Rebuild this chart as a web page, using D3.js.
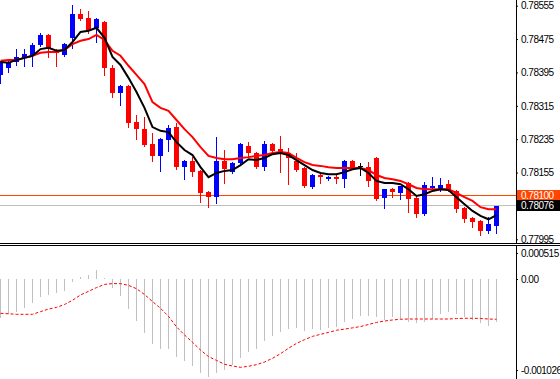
<!DOCTYPE html>
<html><head><meta charset="utf-8">
<script src="https://cdn.jsdelivr.net/npm/d3@7"></script>
<style>
body{margin:0;background:#fff;overflow:hidden}
svg{display:block}
text{font-family:"Liberation Sans",Arial,sans-serif;font-size:10px;letter-spacing:-0.5px}
</style>
</head><body>
<svg id="c" width="560" height="379"></svg>
<script>
// ---- data ----
const opens  = [0.78389,0.78406,0.78420,0.78430,0.78435,0.78461,0.78485,0.78449,0.78437,0.78478,
                0.78535,0.78526,0.78502,0.78516,0.78406,0.78346,0.78363,0.78276,0.78259,0.78223,
                0.78195,0.78233,0.78264,0.78168,0.78183,0.78159,0.78108,0.78096,0.78183,0.78156,
                0.78178,0.78219,0.78202,0.78168,0.78223,0.78211,0.78202,0.78183,0.78166,0.78120,
                0.78149,0.78139,0.78144,0.78139,0.78183,0.78171,0.78168,0.78190,0.78094,0.78115,
                0.78106,0.78130,0.78094,0.78055,0.78118,0.78113,0.78127,0.78111,0.78070,0.78046,
                0.78039,0.78015,0.78029];
const highs  = [0.78423,0.78425,0.78451,0.78451,0.78466,0.78490,0.78487,0.78451,0.78466,0.78557,
                0.78547,0.78543,0.78525,0.78519,0.78413,0.78365,0.78365,0.78293,0.78288,0.78250,
                0.78237,0.78269,0.78274,0.78185,0.78192,0.78161,0.78110,0.78240,0.78209,0.78180,
                0.78226,0.78228,0.78204,0.78231,0.78226,0.78243,0.78214,0.78202,0.78168,0.78151,
                0.78151,0.78147,0.78149,0.78185,0.78185,0.78178,0.78180,0.78192,0.78115,0.78117,
                0.78123,0.78132,0.78096,0.78132,0.78144,0.78142,0.78137,0.78113,0.78072,0.78048,
                0.78041,0.78048,0.78076];
const lows   = [0.78370,0.78396,0.78413,0.78411,0.78411,0.78459,0.78432,0.78411,0.78435,0.78454,
                0.78521,0.78490,0.78468,0.78389,0.78336,0.78317,0.78264,0.78235,0.78219,0.78183,
                0.78159,0.78207,0.78163,0.78139,0.78147,0.78084,0.78072,0.78082,0.78130,0.78154,
                0.78173,0.78192,0.78166,0.78161,0.78204,0.78156,0.78127,0.78159,0.78120,0.78118,
                0.78130,0.78137,0.78130,0.78120,0.78166,0.78149,0.78123,0.78089,0.78070,0.78096,
                0.78091,0.78060,0.78048,0.78053,0.78115,0.78111,0.78111,0.78060,0.78036,0.78024,
                0.78005,0.78010,0.78010];
const closes = [0.78420,0.78420,0.78432,0.78439,0.78461,0.78485,0.78454,0.78442,0.78463,0.78535,
                0.78523,0.78497,0.78523,0.78406,0.78346,0.78363,0.78274,0.78259,0.78221,0.78195,
                0.78235,0.78262,0.78168,0.78183,0.78156,0.78106,0.78096,0.78183,0.78163,0.78178,
                0.78223,0.78202,0.78168,0.78223,0.78207,0.78202,0.78190,0.78161,0.78123,0.78149,
                0.78144,0.78144,0.78139,0.78183,0.78168,0.78171,0.78135,0.78091,0.78115,0.78108,
                0.78123,0.78091,0.78055,0.78125,0.78123,0.78125,0.78111,0.78067,0.78043,0.78036,
                0.78015,0.78031,0.78076];
const maFast = [0.78420,0.78418,0.78425,0.78430,0.78435,0.78451,0.78454,0.78447,0.78449,0.78468,
                0.78492,0.78495,0.78502,0.78478,0.78432,0.78413,0.78382,0.78348,0.78310,0.78264,
                0.78255,0.78252,0.78228,0.78209,0.78197,0.78168,0.78144,0.78154,0.78159,0.78161,
                0.78173,0.78187,0.78185,0.78190,0.78199,0.78202,0.78197,0.78185,0.78173,0.78161,
                0.78154,0.78151,0.78151,0.78156,0.78163,0.78166,0.78154,0.78135,0.78130,0.78130,
                0.78127,0.78115,0.78099,0.78103,0.78111,0.78115,0.78113,0.78096,0.78079,0.78063,
                0.78051,0.78043,0.78053];
const maSlow = [0.78423,0.78425,0.78425,0.78430,0.78435,0.78442,0.78444,0.78444,0.78449,0.78463,
                0.78471,0.78475,0.78485,0.78473,0.78447,0.78435,0.78411,0.78389,0.78367,0.78324,
                0.78310,0.78303,0.78281,0.78259,0.78240,0.78216,0.78195,0.78190,0.78187,0.78187,
                0.78190,0.78192,0.78195,0.78197,0.78202,0.78204,0.78202,0.78190,0.78180,0.78173,
                0.78171,0.78168,0.78166,0.78166,0.78166,0.78166,0.78161,0.78149,0.78142,0.78139,
                0.78135,0.78127,0.78118,0.78115,0.78115,0.78115,0.78115,0.78106,0.78096,0.78087,
                0.78072,0.78067,0.78067];
const macdMain = [-0.000436,-0.000395,-0.000369,-0.000324,-0.000267,-0.000200,-0.000180,-0.000161,-0.000132,-0.000030,
                   0.000046, 0.000085, 0.000178, 0.000026,-0.000105,-0.000188,-0.000338,-0.000474,-0.000605,-0.000733,
                  -0.000789,-0.000789,-0.000876,-0.000921,-0.000978,-0.001056,-0.001108,-0.001063,-0.001026,-0.000970,
                  -0.000887,-0.000820,-0.000789,-0.000696,-0.000639,-0.000594,-0.000564,-0.000549,-0.000583,-0.000567,
                  -0.000575,-0.000556,-0.000538,-0.000481,-0.000451,-0.000414,-0.000414,-0.000432,-0.000462,-0.000432,
                  -0.000454,-0.000488,-0.000499,-0.000481,-0.000454,-0.000395,-0.000369,-0.000395,-0.000432,-0.000462,
                  -0.000499,-0.000530,-0.000481];
const macdSignal = [-0.000387,-0.000392,-0.000398,-0.000398,-0.000398,-0.000368,-0.000339,-0.000320,-0.000288,-0.000240,
                    -0.000180,-0.000139,-0.000097,-0.000061,-0.000052,-0.000052,-0.000072,-0.000109,-0.000175,-0.000254,
                    -0.000330,-0.000421,-0.000539,-0.000631,-0.000714,-0.000801,-0.000875,-0.000918,-0.000961,-0.000981,
                    -0.000996,-0.000984,-0.000966,-0.000936,-0.000894,-0.000842,-0.000781,-0.000726,-0.000684,-0.000647,
                    -0.000624,-0.000602,-0.000578,-0.000565,-0.000551,-0.000536,-0.000513,-0.000490,-0.000474,-0.000462,
                    -0.000454,-0.000451,-0.000451,-0.000451,-0.000451,-0.000451,-0.000451,-0.000446,-0.000443,-0.000443,
                    -0.000445,-0.000451,-0.000454];
const priceTicks = [0.78555,0.78475,0.78395,0.78315,0.78235,0.78155,0.77995];
const macdTicks  = [0.000515,0,-0.001026];
const macdTickLabels = ["0.000515","0.00","-0.001026"];
const levelLine = 0.78100;
const bidPrice  = 0.78076;

// ---- drawing ----
const svg = d3.select("#c");
const W = 560, axisX = 516;
const n = opens.length;
const x = d3.scaleLinear().domain([0, n - 1]).range([0.5, 8 * (n - 1) + 0.5]);
const y = d3.scaleLinear().domain([0.77995, 0.78555]).range([239.3, 5.7]);
const ym = d3.scaleLinear().domain([-0.001026, 0, 0.000515]).range([370, 279, 253]);

const idx = d3.range(n);

// horizontal level lines
const lg = svg.append("g").attr("shape-rendering","crispEdges");
lg.append("line").attr("x1",0).attr("x2",axisX).attr("y1",Math.floor(y(levelLine))+0.5).attr("y2",Math.floor(y(levelLine))+0.5)
   .attr("stroke","#ff4500").attr("stroke-width",1);
lg.append("line").attr("x1",0).attr("x2",axisX).attr("y1",Math.floor(y(bidPrice))+0.5).attr("y2",Math.floor(y(bidPrice))+0.5)
   .attr("stroke","#c0c0c0").attr("stroke-width",1);

// candles
const colorOf = i => closes[i] > opens[i] ? "#0000ff" : (closes[i] < opens[i] ? "#ff0000" : "#000000");
const cg = svg.append("g").attr("shape-rendering","crispEdges");
cg.selectAll("line.w").data(idx).join("line").attr("class","w")
  .attr("x1", i => x(i)).attr("x2", i => x(i))
  .attr("y1", i => Math.round(y(highs[i]))).attr("y2", i => Math.round(y(lows[i])) + 1)
  .attr("stroke", colorOf).attr("stroke-width",1);
cg.selectAll("rect.b").data(idx).join("rect").attr("class","b")
  .attr("x", i => x(i) - 2.5).attr("width", 5)
  .attr("y", i => Math.round(Math.min(y(opens[i]), y(closes[i]))))
  .attr("height", i => Math.max(1, Math.round(Math.abs(y(opens[i]) - y(closes[i])))))
  .attr("fill", colorOf);

// moving averages
const lineP = arr => d3.line().x((d,i) => x(i)).y(d => y(d))(arr);
svg.append("path").attr("d", lineP(maSlow)).attr("fill","none").attr("stroke","#ff0000").attr("stroke-width",2);
svg.append("path").attr("d", lineP(maFast)).attr("fill","none").attr("stroke","#000000").attr("stroke-width",2);

// separator between panels
svg.append("rect").attr("x",0).attr("y",242).attr("width",W).attr("height",137).attr("fill","#fff");
const sg = svg.append("g").attr("shape-rendering","crispEdges");
sg.append("line").attr("x1",0).attr("x2",W).attr("y1",243.5).attr("y2",243.5).attr("stroke","#000");
sg.append("line").attr("x1",0).attr("x2",W).attr("y1",245.5).attr("y2",245.5).attr("stroke","#000");

// MACD histogram
const hg = svg.append("g").attr("shape-rendering","crispEdges");
hg.selectAll("line").data(idx).join("line")
  .attr("x1", i => x(i)).attr("x2", i => x(i))
  .attr("y1", ym(0)).attr("y2", i => Math.round(ym(macdMain[i])))
  .attr("stroke","#c0c0c0").attr("stroke-width",1);
// signal line
svg.append("path").attr("d", d3.line().x((d,i)=>x(i)).y(d=>ym(d))(macdSignal))
  .attr("fill","none").attr("stroke","#ff0000").attr("stroke-width",1).attr("stroke-dasharray","3,2");

// right axes area
sg.append("line").attr("x1",axisX+0.5).attr("x2",axisX+0.5).attr("y1",0).attr("y2",243).attr("stroke","#000");
sg.append("line").attr("x1",axisX+0.5).attr("x2",axisX+0.5).attr("y1",246).attr("y2",379).attr("stroke","#000");

const pa = svg.append("g").attr("transform",`translate(${axisX},0)`)
  .call(d3.axisRight(y).tickValues(priceTicks).tickSize(2).tickPadding(3).tickFormat(d3.format(".5f")));
pa.select(".domain").remove();
pa.selectAll("text").attr("fill","#000").style("font-size","10px");
pa.selectAll("line").attr("stroke","#000");

const ma = svg.append("g").attr("transform",`translate(${axisX},0)`)
  .call(d3.axisRight(ym).tickValues(macdTicks).tickSize(2).tickPadding(3).tickFormat((d,i)=>macdTickLabels[i]));
ma.select(".domain").remove();
ma.selectAll("text").attr("fill","#000").style("font-size","10px");
ma.selectAll("line").attr("stroke","#000");

// price boxes
function priceBox(v, bg, fg){
  const yy = y(v);
  svg.append("rect").attr("x",axisX+1).attr("y",Math.round(yy-5.5)).attr("width",W-axisX-1).attr("height",11)
     .attr("fill",bg).attr("shape-rendering","crispEdges");
  svg.append("text").attr("x",axisX+5).attr("y",yy).attr("dy","0.35em").attr("fill",fg)
     .style("font-size","10px").text(d3.format(".5f")(v));
}
priceBox(levelLine, "#ff4500", "#ffffff");
priceBox(bidPrice, "#000000", "#ffffff");
</script>
</body></html>
